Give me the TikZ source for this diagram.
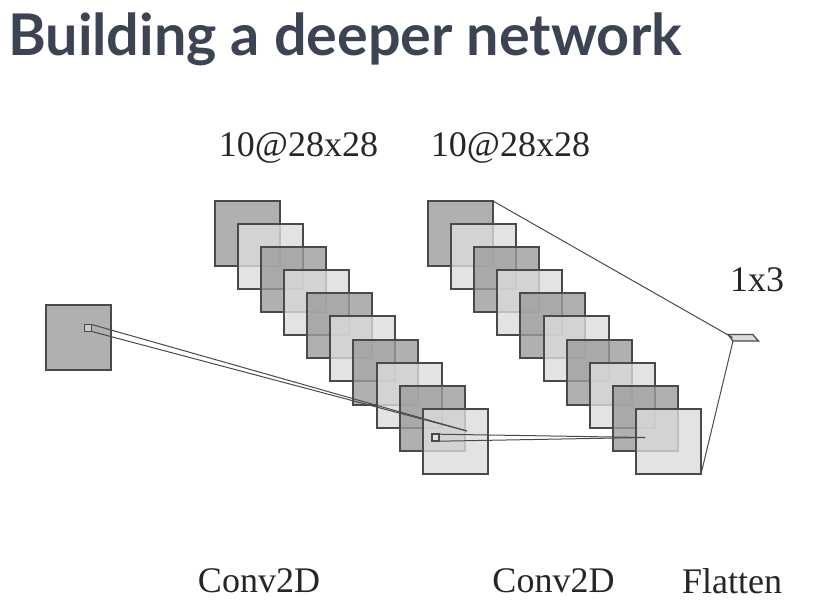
\documentclass[tikz,border=0pt]{standalone}
\usepackage{fontspec}
\setmainfont{Liberation Serif}
\newfontfamily\titlefont{Lato}
\definecolor{titleink}{HTML}{3C4454}
\definecolor{darkface}{HTML}{9C9C9C}
\definecolor{lightface}{HTML}{DCDCDC}
\definecolor{edgeink}{HTML}{4A4A4A}
\tikzset{
  mapbox/.style={inner sep=0pt,outer sep=0pt,minimum size=65pt,anchor=center,fill opacity=.8},
  darkmap/.style={mapbox,fill=darkface},
  lightmap/.style={mapbox,fill=lightface},
  mapedge/.style={draw=edgeink,line width=2pt},
  patch/.style={draw=edgeink,line width=1.5pt,inner sep=0pt,outer sep=0pt,minimum size=7pt,fill=white,fill opacity=.35},
  link/.style={draw=edgeink,line width=1pt},
  caption/.style={font=\fontsize{36}{40}\selectfont,text=black!85,inner sep=0pt},
  headline/.style={font=\titlefont\bfseries\fontsize{57.5}{62}\selectfont,text=titleink,inner sep=0pt,anchor=base west}
}
\newcommand{\mapsquare}[3]{%
  \node[#1] (#2) at #3 {};
  \draw[mapedge] (#2.north west) rectangle (#2.south east);
}
\begin{document}
\begin{tikzpicture}[x=1pt,y=-1pt]
\useasboundingbox (0,0) rectangle (820,613);
\node[headline] (title) at (8,56) {Building a deeper network};
\node[caption] (cap1) at (298.5,147.5) {10@28x28};
\node[caption] (cap2) at (510.5,147.5) {10@28x28};
\node[caption] (cap3) at (757,280) {1x3};
\node[caption] (lab1) at (259,581) {Conv2D};
\node[caption] (lab2) at (553.5,581) {Conv2D};
\node[caption] (lab3) at (732,581) {Flatten};
\mapsquare{darkmap}{input}{(78.5,337.5)}
\foreach \i in {0,...,9}{
  \pgfmathsetmacro{\py}{round(200.7+23.15*\i)+32.5}
  \pgfmathsetmacro{\ax}{round(214.8+23.1*\i)+32.5}
  \pgfmathsetmacro{\bx}{round(428+23.1*\i)+32.5}
  \pgfmathtruncatemacro{\odd}{mod(\i,2)}
  \ifnum\odd=0
    \mapsquare{darkmap}{a\i}{(\ax,\py)}
    \mapsquare{darkmap}{b\i}{(\bx,\py)}
  \else
    \mapsquare{lightmap}{a\i}{(\ax,\py)}
    \mapsquare{lightmap}{b\i}{(\bx,\py)}
  \fi
}
\node[patch] (p0) at (88.2,328) {};
\node[patch] (p1) at (435.5,437.7) {};
\coordinate (t1) at (467,431);
\coordinate (t2) at (645,437.5);
\coordinate (t3) at (732.5,337.5);
\coordinate (t4) at (733,341);
\draw[link] (p0.north east) -- (t1);
\draw[link] (p0.south east) -- (t1);
\draw[link] (p1.north east) -- (t2);
\draw[link] (p1.south east) -- (t2);
\draw[draw=edgeink,line width=1.3pt,fill=lightface] (728,334.5) -- (752.7,334.5) -- (758.5,341) -- (t4) -- cycle;
\draw[link] (b0.north east) -- (t3);
\draw[link] (b9.south east) -- (t4);
\end{tikzpicture}
\end{document}
